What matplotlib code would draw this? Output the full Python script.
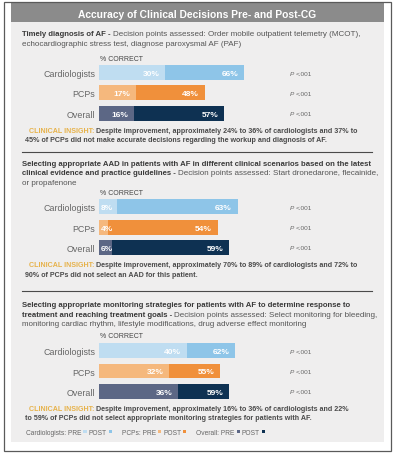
import numpy as np
import matplotlib
matplotlib.use('Agg')
import matplotlib.pyplot as plt
from matplotlib.patches import Rectangle

plt.rcParams['font.family'] = ['Liberation Sans', 'DejaVu Sans']

groups = ['Cardiologists', 'PCPs', 'Overall']
pre_timely = [30, 17, 16]
post_timely = [66, 48, 57]
pre_aad = [8, 4, 6]
post_aad = [63, 54, 59]
pre_monitor = [40, 32, 36]
post_monitor = [62, 55, 59]
p_text = '<.001'

pre_colors = ['#bfddf1', '#f5b87d', '#5c6785']
post_colors = ['#8ec5e8', '#f0903b', '#0e3152']
gold = '#e7b24a'
dark = '#3a3a3a'
mid = '#555555'

W, H = 396, 456
fig = plt.figure(figsize=(W / 100, H / 100), dpi=100)
fig.patch.set_facecolor('white')
renderer = fig.canvas.get_renderer()

bg = fig.add_axes([0, 0, 1, 1])
bg.set_xlim(0, W)
bg.set_ylim(H, 0)
bg.axis('off')

bg.add_patch(Rectangle((11, 3), 373, 440, fc='#efeeee', ec='none'))
bg.add_patch(Rectangle((11, 3), 373, 20, fc='#8b8b8b', ec='none'))
bg.add_patch(Rectangle((4, 3), 387, 449, fill=False, ec='#5a5a5a', lw=0.9))
bg.text(197, 13.5, 'Accuracy of Clinical Decisions Pre- and Post-CG', color='white',
        fontsize=7.4, fontweight='bold', ha='center', va='center_baseline')
for yy in [152.7, 291.5]:
    bg.plot([22, 372], [yy, yy], color='#4a4a4a', lw=0.8)


def put(x, y, parts, size):
    # draw text pieces one after another on the same line
    for txt, weight, color in parts:
        if txt == '':
            x += 0.278 * size * 100 / 72
            continue
        t = bg.text(x, y, txt, fontsize=size, fontweight=weight, color=color,
                    ha='left', va='center_baseline')
        x += t.get_window_extent(renderer).width
    return x


SP = ('', None, None)


def heading(y, parts):
    x = 22
    for txt, weight, color in parts:
        if txt == '':
            x += 0.278 * 5.6 * 100 / 72
            continue
        size = 5.55 if weight == 'bold' else 5.75
        x = put(x, y, [(txt, weight, color)], size)


heading(34, [('Timely diagnosis of AF -', 'bold', dark), SP,
             ('Decision points assessed: Order mobile outpatient telemetry (MCOT),', 'normal', mid)])
heading(44, [('echocardiographic stress test, diagnose paroxysmal AF (PAF)', 'normal', mid)])

heading(163.5, [('Selecting appropriate AAD in patients with AF in different clinical scenarios based on the latest', 'bold', dark)])
heading(173, [('clinical evidence and practice guidelines -', 'bold', dark), SP,
              ('Decision points assessed: Start dronedarone, flecainide,', 'normal', mid)])
heading(182.5, [('or propafenone', 'normal', mid)])

heading(305, [('Selecting appropriate monitoring strategies for patients with AF to determine response to', 'bold', dark)])
heading(314.3, [('treatment and reaching treatment goals -', 'bold', dark), SP,
                ('Decision points assessed: Select monitoring for bleeding,', 'normal', mid)])
heading(323.5, [('monitoring cardiac rhythm, lifestyle modifications, drug adverse effect monitoring', 'normal', mid)])

# clinical insights
ins = 5.1
insights = [
    (131, 140, 'Despite improvement, approximately 24% to 36% of cardiologists and 37% to',
     '45% of PCPs did not make accurate decisions regarding the workup and diagnosis of AF.'),
    (265, 274.3, 'Despite improvement, approximately 70% to 89% of cardiologists and 72% to',
     '90% of PCPs did not select an AAD for this patient.'),
    (408.3, 418, 'Despite improvement, approximately 16% to 36% of cardiologists and 22%',
     'to 59% of PCPs did not select appropriate monitoring strategies for patients with AF.'),
]
for y1, y2, l1, l2 in insights:
    put(29, y1, [('CLINICAL INSIGHT:', 'bold', gold), SP, (l1, 'bold', '#4a4a4a')], ins)
    put(25, y2, [(l2, 'bold', '#4a4a4a')], ins)

for yy in [58.5, 192.3, 335.7]:
    bg.text(100, yy, '% CORRECT', fontsize=5.0, color='#444444', va='center_baseline')

# legend
ls = 4.75
x = 26
for name, i in [('Cardiologists:', 0), ('PCPs:', 1), ('Overall:', 2)]:
    x = put(x, 432.7, [(name + ' PRE', 'normal', '#666666'), SP], ls)
    bg.add_patch(Rectangle((x, 431), 3.4, 3.4, fc=pre_colors[i], ec='none'))
    x = put(x + 3.4, 432.7, [SP, ('POST', 'normal', '#666666'), SP], ls)
    bg.add_patch(Rectangle((x, 431), 3.4, 3.4, fc=post_colors[i], ec='none'))
    x += 3.4 + 10


def bar_panel(c0, pre, post):
    step = 20.4
    top = c0 - step / 2
    h = 3 * step
    ax = fig.add_axes([0, 1 - (top + h) / H, 1, h / H])
    ax.patch.set_alpha(0)
    ax.set_xlim(-99 / 2.2, (W - 99) / 2.2)
    ax.set_ylim(2.5, -0.5)
    ax.axis('off')
    y = np.arange(len(groups))
    ax.barh(y, post, height=0.73, color=post_colors)
    ax.barh(y, pre, height=0.73, color=pre_colors)
    for i in y:
        ax.text(-1.8, i, groups[i], ha='right', va='center_baseline', fontsize=6.4, color='#666666')
        if pre[i] < 10:
            ax.text(0.8, i, f'{pre[i]}%', ha='left', va='center_baseline',
                    fontsize=6.0, fontweight='bold', color='white')
        else:
            ax.text(pre[i] - 2.6, i, f'{pre[i]}%', ha='right', va='center_baseline',
                    fontsize=6.0, fontweight='bold', color='white')
        ax.text(post[i] - 2.6, i, f'{post[i]}%', ha='right', va='center_baseline',
                fontsize=6.0, fontweight='bold', color='white')
        pt = ax.text(86.8, i, 'P', style='italic', ha='left', va='center_baseline',
                     fontsize=4.6, color='#666666')
        ax.annotate(p_text, xy=(1, 0), xycoords=pt, xytext=(1.2, 0), textcoords='offset points',
                    ha='left', va='bottom', fontsize=4.6, color='#666666')
    return ax


bar_panel(73.5, pre_timely, post_timely)
bar_panel(207.7, pre_aad, post_aad)
bar_panel(351.6, pre_monitor, post_monitor)

fig.savefig('out.png', dpi=100, facecolor='white')
